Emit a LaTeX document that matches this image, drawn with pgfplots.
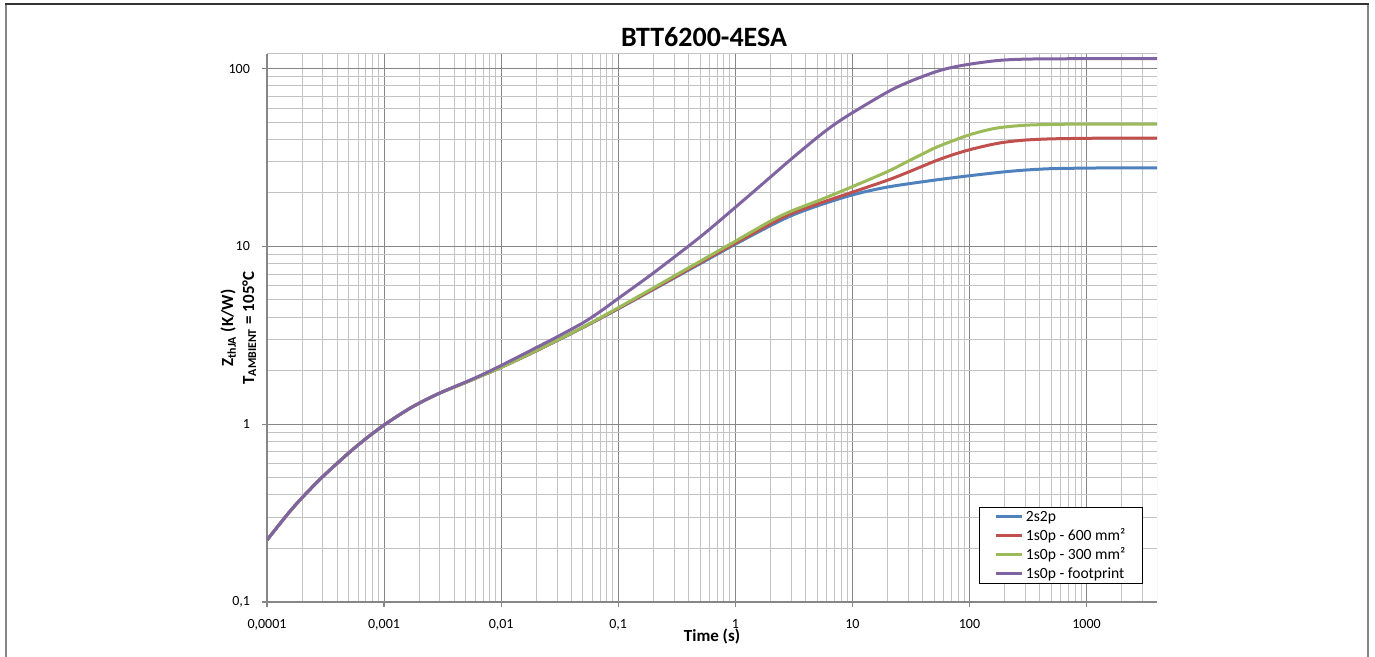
\documentclass[border=0pt]{standalone}
\usepackage{fontspec}
\setmainfont{Carlito}
\usepackage{pgfplots}
\pgfplotsset{compat=1.18}

\definecolor{xlblue}{RGB}{79,129,189}
\definecolor{xlred}{RGB}{192,80,77}
\definecolor{xlgreen}{RGB}{155,187,89}
\definecolor{xlpurple}{RGB}{128,100,162}
\definecolor{majgray}{RGB}{134,134,134}
\definecolor{mingray}{RGB}{195,195,195}

\begin{document}
\begin{tikzpicture}
\useasboundingbox (0pt,0pt) rectangle (687.5pt,328.5pt);
% outer chart frame
\draw[majgray, line width=1pt] (3pt,0pt) -- (3pt,326.5pt);
\draw[majgray, line width=1pt] (684pt,0pt) -- (684pt,326.5pt);
\draw[black!80, line width=1pt] (2.5pt,326.5pt) -- (684.5pt,326.5pt);

\begin{axis}[
    at={(133.5pt,27.5pt)}, anchor=south west,
    scale only axis, width=445pt, height=274pt,
    xmode=log, ymode=log,
    xmin=1e-4, xmax=4000, ymin=0.1, ymax=121,
    axis x line*=bottom, axis y line*=left,
    axis line style={majgray, line width=0.6pt},
    tick align=outside, major tick length=2.5pt, minor tick length=0pt,
    tick style={majgray, line width=0.6pt},
    xtick={1e-4,1e-3,0.01,0.1,1,10,100,1000},
    xticklabels={{0,0001},{0,001},{0,01},{0,1},1,10,100,1000},
    minor xtick={2e-4,3e-4,4e-4,5e-4,6e-4,7e-4,8e-4,9e-4,
                 2e-3,3e-3,4e-3,5e-3,6e-3,7e-3,8e-3,9e-3,
                 0.02,0.03,0.04,0.05,0.06,0.07,0.08,0.09,
                 0.2,0.3,0.4,0.5,0.6,0.7,0.8,0.9,
                 2,3,4,5,6,7,8,9,20,30,40,50,60,70,80,90,
                 200,300,400,500,600,700,800,900,2000,3000},
    ytick={0.1,1,10,100},
    yticklabels={{0,1},1,10,100},
    minor ytick={0.2,0.3,0.4,0.5,0.6,0.7,0.8,0.9,2,3,4,5,6,7,8,9,
                 20,30,40,50,60,70,80,90},
    grid=both,
    major grid style={majgray, line width=0.5pt},
    minor grid style={mingray, line width=0.5pt},
    ticklabel style={font=\fontsize{7}{8}\selectfont},
    xticklabel style={yshift=-2.5pt},
    yticklabel style={xshift=-2.5pt},
    legend cell align=left,
    legend style={at={(0.984,0.033)}, anchor=south east,
        draw=black, line width=0.5pt, fill=white,
        font=\fontsize{7.8}{9}\selectfont,
        inner xsep=7.5pt, inner ysep=0pt,
        nodes={text height=6pt, text depth=1.7pt, inner ysep=0.9pt, inner xsep=1pt}},
    legend image code/.code={\draw[#1] (0pt,0pt) -- (13pt,0pt);},
    every axis plot/.append style={line width=1.5pt, smooth},
]
\draw[mingray, line width=0.5pt] (rel axis cs:0,1) -- (rel axis cs:1,1) -- (rel axis cs:1,0);

% 2s2p
\addplot[xlblue] coordinates {
(1e-4,0.223) (1.5e-4,0.312) (2e-4,0.387) (3e-4,0.508) (5e-4,0.69) (7e-4,0.83)
(1e-3,0.99) (1.5e-3,1.18) (2e-3,1.315) (3e-3,1.498) (5e-3,1.72) (7e-3,1.89)
(0.01,2.09) (0.02,2.59) (0.05,3.5) (0.1,4.46) (0.2,5.73) (0.5,8.0)
(1,10.3) (2,13.1) (3,14.9) (5,16.9) (10,19.5) (20,21.6) (50,23.6)
(100,25.0) (200,26.3) (300,26.9) (500,27.4) (1000,27.6) (2000,27.7) (4000,27.7)
};
\addlegendentry{2s2p}
% 1s0p - 600 mm2
\addplot[xlred] coordinates {
(1e-4,0.223) (1.5e-4,0.312) (2e-4,0.387) (3e-4,0.508) (5e-4,0.69) (7e-4,0.83)
(1e-3,0.99) (1.5e-3,1.18) (2e-3,1.315) (3e-3,1.498) (5e-3,1.72) (7e-3,1.89)
(0.01,2.09) (0.02,2.59) (0.05,3.51) (0.1,4.48) (0.2,5.77) (0.5,8.1)
(1,10.45) (2,13.4) (3,15.3) (5,17.3) (10,20.2) (20,23.6) (30,26.2) (50,30.1)
(70,32.6) (100,35.0) (150,37.3) (200,38.6) (300,39.7) (500,40.3) (1000,40.6)
(2000,40.7) (4000,40.7)
};
\addlegendentry{1s0p - 600 mm²}
% 1s0p - 300 mm2
\addplot[xlgreen] coordinates {
(1e-4,0.223) (1.5e-4,0.312) (2e-4,0.387) (3e-4,0.508) (5e-4,0.69) (7e-4,0.83)
(1e-3,0.99) (1.5e-3,1.18) (2e-3,1.315) (3e-3,1.498) (5e-3,1.72) (7e-3,1.89)
(0.01,2.09) (0.02,2.6) (0.05,3.52) (0.1,4.52) (0.2,5.85) (0.5,8.25)
(1,10.7) (2,13.9) (3,15.8) (5,18.0) (10,21.7) (20,26.4) (30,30.2) (50,35.7)
(70,39.0) (100,42.5) (150,45.6) (200,47.0) (300,48.1) (500,48.6) (1000,48.8)
(2000,48.8) (4000,48.8)
};
\addlegendentry{1s0p - 300 mm²}
% 1s0p - footprint
\addplot[xlpurple] coordinates {
(1e-4,0.223) (1.5e-4,0.312) (2e-4,0.387) (3e-4,0.508) (5e-4,0.69) (7e-4,0.83)
(1e-3,0.99) (1.5e-3,1.18) (2e-3,1.315) (3e-3,1.5) (5e-3,1.73) (7e-3,1.91)
(0.01,2.14) (0.02,2.7) (0.03,3.1) (0.05,3.72) (0.07,4.3) (0.1,5.1) (0.2,7.1)
(0.5,11.3) (1,16.6) (2,24.6) (3,31) (5,41) (7,48.5) (10,56.5) (20,74) (30,84)
(50,95.5) (70,101.5) (100,106) (150,110) (200,112) (300,113.2) (500,113.7)
(1000,113.8) (2000,113.8) (4000,113.8)
};
\addlegendentry{1s0p - footprint}
\end{axis}

% title and axis labels
\node[font=\fontsize{14}{16}\selectfont\bfseries, anchor=base] at (352pt,305pt) {BTT6200-4ESA};
\node[font=\fontsize{8.5}{10}\selectfont\bfseries, anchor=base] at (356pt,7.5pt) {Time (s)};
\node[font=\fontsize{8.5}{10}\selectfont\bfseries, rotate=90, anchor=base] at (116.5pt,164.5pt) {Z\textsubscript{thJA} (K/W)};
\node[font=\fontsize{8.5}{10}\selectfont\bfseries, rotate=90, anchor=base] at (127pt,164.5pt) {T\textsubscript{AMBIENT} = 105°C};
\end{tikzpicture}
\end{document}
